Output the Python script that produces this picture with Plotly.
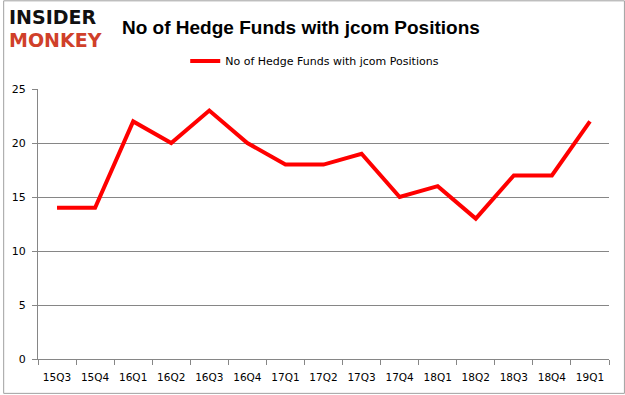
import plotly.graph_objects as go

quarters = ["15Q3", "15Q4", "16Q1", "16Q2", "16Q3", "16Q4", "17Q1", "17Q2",
            "17Q3", "17Q4", "18Q1", "18Q2", "18Q3", "18Q4", "19Q1"]
funds = [14, 14, 22, 20, 23, 20, 18, 18, 19, 15, 16, 13, 17, 17, 22]
series_name = "No of Hedge Funds with jcom Positions"
title_text = "No of Hedge Funds with jcom Positions"

W, H = 625, 395
L, R, T, B = 35, 16, 89, 35
pw, ph = W - L - R, H - T - B

def px_x(x):
    return (x - L) / pw

def px_y(y):
    return (H - B - y) / ph

fig = go.Figure()
fig.add_trace(go.Scatter(
    x=quarters, y=funds, mode="lines", name=series_name,
    line=dict(color="#FF0000", width=4),
))

fig.update_layout(
    width=W, height=H,
    margin=dict(l=L, r=R, t=T, b=B),
    paper_bgcolor="white", plot_bgcolor="white",
    font=dict(family="DejaVu Sans", size=11, color="#000000"),
    showlegend=True,
    legend=dict(orientation="h", x=px_x(183), xanchor="left",
                y=px_y(61), yanchor="middle",
                font=dict(family="DejaVu Sans", size=11),
                bgcolor="rgba(0,0,0,0)", itemwidth=30),
    xaxis=dict(showgrid=False, showline=True, linecolor="#868686", linewidth=1,
               ticks="outside", ticklen=5, tickcolor="#868686",
               tickson="boundaries", ticklabelstandoff=8,
               tickfont=dict(size=10.5, color="#000"),
               range=[-0.5, len(quarters) - 0.5]),
    yaxis=dict(range=[0, 25], dtick=5, showgrid=True, gridcolor="#868686",
               gridwidth=1, showline=True, linecolor="#868686", linewidth=1,
               ticks="outside", ticklen=5, tickcolor="#868686",
               ticklabelstandoff=4,
               tickfont=dict(size=11, color="#000"), zeroline=False),
    shapes=[dict(type="rect", xref="paper", yref="paper",
                 x0=px_x(0.5), x1=px_x(W - 0.5), y0=px_y(H - 0.5), y1=px_y(0.5),
                 line=dict(color="#A0A0A0", width=1), layer="below")],
    annotations=[
        dict(text="<b>" + title_text + "</b>", xref="paper", yref="paper",
             x=px_x(117), y=px_y(27), xanchor="left", yanchor="middle",
             showarrow=False, font=dict(family="Liberation Sans", size=19, color="#000")),
        dict(text="<b>INSIDER</b>", xref="paper", yref="paper",
             x=px_x(4), y=px_y(17), xanchor="left", yanchor="middle",
             showarrow=False, font=dict(family="DejaVu Sans", size=19, color="#111")),
        dict(text="<b>MONKEY</b>", xref="paper", yref="paper",
             x=px_x(4), y=px_y(40), xanchor="left", yanchor="middle",
             showarrow=False, font=dict(family="DejaVu Sans", size=19, color="#D0402A")),
    ],
)

fig.write_html("out.html", config={"displayModeBar": False})

with open("out.html", "r", encoding="utf-8") as f:
    html = f.read()
html = html.replace("<head>", "<head><style>html,body{margin:0;padding:0;}</style>", 1)
with open("out.html", "w", encoding="utf-8") as f:
    f.write(html)
